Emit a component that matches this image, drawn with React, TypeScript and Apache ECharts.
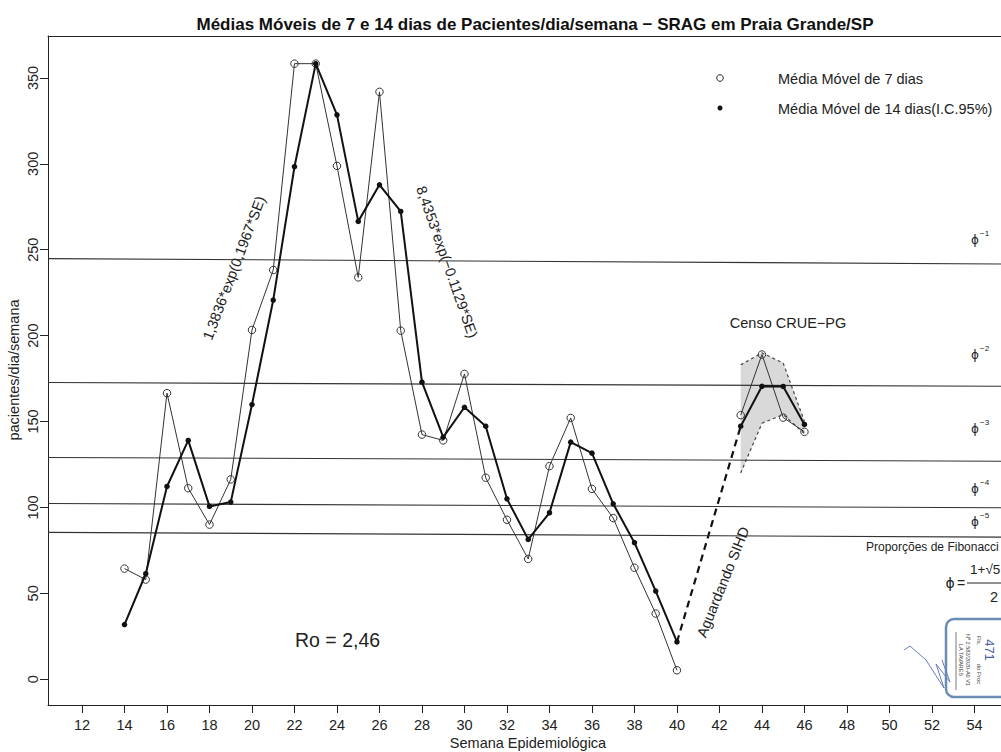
import React, { useEffect, useRef } from "react";
import * as echarts from "echarts";

const FONT = "'Liberation Sans', Arial, Helvetica, sans-serif";
const SYM_FONT = "'DejaVu Sans', 'Liberation Sans', sans-serif";

// Semana epidemiológica
const weeks = [14, 15, 16, 17, 18, 19, 20, 21, 22, 23, 24, 25, 26, 27, 28, 29, 30, 31, 32, 33, 34, 35, 36, 37, 38, 39, 40, 43, 44, 45, 46];
// Média móvel de 7 dias (círculos abertos)
const ma7 = [64.4, 58, 166.5, 111.2, 90, 116.3, 203.3, 238.2, 358.3, 358.3, 298.8, 233.9, 341.9, 202.9, 142.4, 139, 177.7, 117.3, 92.8, 70, 124, 152.1, 110.8, 93.8, 64.9, 38.2, 5.2, 153.7, 189, 152.3, 144];
// Média móvel de 14 dias (pontos cheios)
const ma14 = [31.8, 61.4, 112.2, 139, 100.6, 103.1, 159.9, 220.7, 298.3, 358.3, 328.5, 266.5, 287.8, 272.3, 172.9, 140.9, 158.3, 147.3, 105, 81.4, 96.9, 138, 131.6, 102.1, 79.5, 51.3, 21.7, 147.3, 170.5, 170.4, 148.3];

// Intervalo de confiança 95% (Censo CRUE-PG)
const ciWeeks = [43, 44, 45, 46];
const ciLower = [120, 149, 154, 143];
const ciUpper = [183, 190, 184, 150];

// Trecho "Aguardando SIHD"
const gapFrom = 40;
const gapTo = 43;

// Níveis de Fibonacci (valor na borda esquerda e na borda direita)
const fibLeft = [244.8, 172.7, 129.1, 102.3, 85.5];
const fibRight = [241.7, 170.5, 126.9, 99.8, 82.7];
const fibExp = ["−1", "−2", "−3", "−4", "−5"];

// Eixos
const xTicks = [12, 14, 16, 18, 20, 22, 24, 26, 28, 30, 32, 34, 36, 38, 40, 42, 44, 46, 48, 50, 52, 54];
const yTicks = [0, 50, 100, 150, 200, 250, 300, 350];
const X_MIN = 10.4;
const X_MAX = 55.25;
const Y_MIN = -15;
const Y_MAX = 374.4;

function withGaps(xs: number[], ys: number[]) {
  const out: any[] = [];
  xs.forEach((x, i) => {
    if (i > 0 && x - xs[i - 1] > 1) out.push([(x + xs[i - 1]) / 2, "-"]);
    out.push([x, ys[i]]);
  });
  return out;
}

function valAt(w: number) {
  return ma14[weeks.indexOf(w)];
}

const txt = (text: string, x: number, y: number, o: any = {}) => ({
  type: "text",
  x,
  y,
  rotation: o.rotation || 0,
  z: 100,
  silent: true,
  style: {
    text,
    fill: o.color || "#222",
    fontSize: o.size || 14.5,
    fontFamily: o.family || FONT,
    fontWeight: o.weight || "normal",
    align: o.align || "center",
    verticalAlign: "middle",
  },
});

function buildOption(): any {
  const graphics: any[] = [
    txt("Médias Móveis de 7 e 14 dias de Pacientes/dia/semana − SRAG em Praia Grande/SP", 535, 24, { size: 17, weight: "bold", color: "#111" }),
    txt("pacientes/dia/semana", 14, 370, { rotation: Math.PI / 2, size: 14.5 }),
    txt("Semana Epidemiológica", 528, 743, { size: 14.5 }),
    // legend
    { type: "circle", shape: { cx: 720, cy: 78, r: 3.3 }, z: 100, silent: true, style: { fill: "none", stroke: "#222", lineWidth: 1 } },
    { type: "circle", shape: { cx: 720, cy: 108, r: 2.5 }, z: 100, silent: true, style: { fill: "#111" } },
    txt("Média Móvel de 7 dias", 778, 79, { align: "left", size: 14.5 }),
    txt("Média Móvel de 14 dias(I.C.95%)", 778, 109, { align: "left", size: 14.5 }),
    // annotations
    txt("1,3836*exp(0,1967*SE)", 234, 268, { rotation: 1.208, size: 14.5 }),
    txt("8,4353*exp(−0.1129*SE)", 447, 262, { rotation: -1.234, size: 14.5 }),
    txt("Aguardando SIHD", 723, 582, { rotation: 1.189, size: 14.5 }),
    txt("Ro = 2,46", 295, 640, { align: "left", size: 19.5 }),
    txt("Censo CRUE−PG", 788, 323, { size: 14.5 }),
    txt("Proporções de Fibonacci", 866, 547, { align: "left", size: 12 }),
    // phi formula
    txt("ϕ", 950, 583, { size: 14, family: SYM_FONT }),
    txt("=", 961, 583, { size: 14 }),
    { type: "line", shape: { x1: 967, y1: 583, x2: 1001, y2: 583 }, z: 100, silent: true, style: { stroke: "#222", lineWidth: 1 } },
    txt("1+√5", 970, 569, { align: "left", size: 13.5 }),
    txt("2", 994, 597, { size: 14.5 }),
    // stamp
    { type: "rect", shape: { x: 946, y: 619, width: 72, height: 78, r: 8 }, z: 90, silent: true, style: { fill: "rgba(0,0,0,0)", stroke: "#6b8db5", lineWidth: 2.5 } },
    { type: "line", shape: { x1: 956, y1: 632, x2: 956, y2: 690 }, z: 90, silent: true, style: { stroke: "#555", lineWidth: 0.8 } },
    txt("LA TAVARES", 961, 660, { rotation: -Math.PI / 2, size: 5.5, color: "#444" }),
    txt("Nº 2.582/2020-A0 V1", 968, 660, { rotation: -Math.PI / 2, size: 5.5, color: "#444" }),
    txt("Fls.           do Proc", 979, 660, { rotation: -Math.PI / 2, size: 6, color: "#444" }),
    txt("471", 989, 650, { rotation: -Math.PI / 2, size: 13, color: "#4a5aa0" }),
    { type: "polyline", shape: { points: [[904, 650], [910, 646], [926, 660], [944, 688], [936, 664], [950, 682], [942, 660]] }, z: 90, silent: true, style: { fill: "none", stroke: "#6a7cc0", lineWidth: 1 } },
  ];

  const phiYs = [240, 355, 429, 489, 522];
  phiYs.forEach((y, i) => {
    graphics.push(txt("ϕ", 975, y, { size: 12, family: SYM_FONT, color: "#222" }));
    graphics.push(txt(fibExp[i], 980, y - 7, { size: 8, align: "left" }));
  });

  const fibLines = fibLeft.map((v, i) => [
    { coord: [X_MIN, v] },
    { coord: [X_MAX, fibRight[i]] },
  ]);

  const axisLineStyle = { show: true, onZero: false, lineStyle: { color: "#222", width: 1 } };

  return {
    animation: false,
    backgroundColor: "#ffffff",
    textStyle: { fontFamily: FONT },
    grid: {
      left: 48,
      right: 0,
      top: 36,
      bottom: 47,
      show: false,
      containLabel: false,
    },
    xAxis: [
      {
        type: "value",
        position: "bottom",
        min: X_MIN,
        max: X_MAX,
        axisLine: axisLineStyle,
        splitLine: { show: false },
        axisTick: { show: true, length: 8, customValues: xTicks, lineStyle: { color: "#222" } },
        axisLabel: { customValues: xTicks, margin: 12, fontSize: 14.5, color: "#222", fontFamily: FONT },
      },
      {
        type: "value",
        position: "top",
        min: X_MIN,
        max: X_MAX,
        axisLine: axisLineStyle,
        splitLine: { show: false },
        axisTick: { show: false },
        axisLabel: { show: false },
      },
    ],
    yAxis: {
      type: "value",
      min: Y_MIN,
      max: Y_MAX,
      axisLine: axisLineStyle,
      splitLine: { show: false },
      axisTick: { show: true, length: 8, customValues: yTicks, lineStyle: { color: "#222" } },
      axisLabel: { customValues: yTicks, rotate: 90, margin: 8, fontSize: 14.5, color: "#222", fontFamily: FONT },
    },
    graphic: graphics,
    series: [
      {
        type: "custom",
        silent: true,
        z: 1,
        data: [[ciWeeks[0], ciLower[0]]],
        renderItem: (_p: any, api: any) => {
          const up = ciWeeks.map((w, i) => api.coord([w, ciUpper[i]]));
          const lo = ciWeeks.map((w, i) => api.coord([w, ciLower[i]])).reverse();
          return { type: "polygon", shape: { points: up.concat(lo) }, style: { fill: "#d9d9d9" } };
        },
      },
      {
        type: "line",
        silent: true,
        z: 2,
        symbol: "none",
        data: ciWeeks.map((w, i) => [w, ciUpper[i]]),
        lineStyle: { color: "#444", width: 1.2, type: [3, 3] },
      },
      {
        type: "line",
        silent: true,
        z: 2,
        symbol: "none",
        data: ciWeeks.map((w, i) => [w, ciLower[i]]),
        lineStyle: { color: "#444", width: 1.2, type: [3, 3] },
      },
      {
        type: "line",
        name: "Média Móvel de 7 dias",
        silent: true,
        z: 3,
        data: withGaps(weeks, ma7),
        connectNulls: false,
        symbol: "circle",
        symbolSize: 7.5,
        lineStyle: { color: "#333", width: 1 },
        itemStyle: { color: "rgba(0,0,0,0)", borderColor: "#333", borderWidth: 1 },
        markLine: {
          silent: true,
          symbol: ["none", "none"],
          label: { show: false },
          lineStyle: { type: "solid", color: "#333", width: 1.1 },
          data: fibLines,
        },
      },
      {
        type: "line",
        silent: true,
        z: 4,
        symbol: "none",
        data: [[gapFrom, valAt(gapFrom)], [gapTo, valAt(gapTo)]],
        lineStyle: { color: "#111", width: 2.2, type: [7, 5] },
      },
      {
        type: "line",
        name: "Média Móvel de 14 dias(I.C.95%)",
        silent: true,
        z: 5,
        data: withGaps(weeks, ma14),
        connectNulls: false,
        symbol: "circle",
        symbolSize: 5.5,
        lineStyle: { color: "#111", width: 2 },
        itemStyle: { color: "#111" },
      },
    ],
  };
}

export default function App() {
  const ref = useRef<HTMLDivElement>(null);
  useEffect(() => {
    const chart = echarts.init(ref.current as HTMLDivElement, null, { renderer: "svg" });
    chart.setOption(buildOption());
    return () => chart.dispose();
  }, []);
  return <div ref={ref} style={{ position: "absolute", left: 0, top: 0, width: 1001, height: 752, background: "#fff" }} />;
}
